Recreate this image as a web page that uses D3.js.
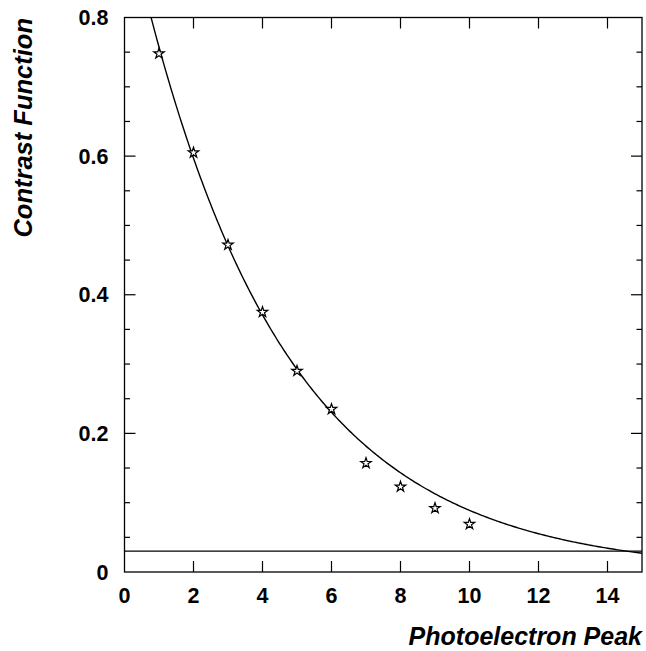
<!DOCTYPE html>
<html>
<head>
<meta charset="utf-8">
<script src="https://cdn.jsdelivr.net/npm/d3@7"></script>
<style>
  body { margin: 0; background: #fff; }
  text { font-family: "Liberation Sans", Arial, sans-serif; font-weight: bold; }
</style>
</head>
<body>
<div id="plot"></div>
<script>
// measured points (photoelectron peak number vs contrast)
const peaks = [1, 2, 3, 4, 5, 6, 7, 8, 9, 10];
const contrast = [0.748, 0.605, 0.472, 0.375, 0.290, 0.235, 0.157, 0.123, 0.092, 0.069];

// fitted exponential a*exp(-b*x) and flat reference level
const fitA = 0.961;
const fitB = 0.238;
const baseline = 0.03;

const xTicks = [0, 2, 4, 6, 8, 10, 12, 14];
const yTicks = [0, 0.2, 0.4, 0.6, 0.8];

const svgWidth = 646;
const svgHeight = 651;
const margin = { top: 17.5, right: 4, bottom: 79, left: 124.5 };
const width = svgWidth - margin.left - margin.right;
const height = svgHeight - margin.top - margin.bottom;

const svg = d3
  .select("div#plot")
  .append("svg")
  .attr("width", svgWidth)
  .attr("height", svgHeight);

const g = svg
  .append("g")
  .attr("transform", "translate(" + margin.left + "," + margin.top + ")");

const x = d3.scaleLinear().domain([0, 15]).range([0, width]);
const y = d3.scaleLinear().domain([0, 0.8]).range([height, 0]);

// clip for the curve
g.append("clipPath")
  .attr("id", "clip")
  .append("rect")
  .attr("width", width)
  .attr("height", height);

// frame
g.append("rect")
  .attr("width", width)
  .attr("height", height)
  .attr("fill", "none")
  .attr("stroke", "#000")
  .attr("stroke-width", 1.3);

// ticks: major x every 2, y major 0.2, minor 0.05
const yMinor = d3.range(0.05, 0.8, 0.05).filter((v) => Math.abs(v * 5 - Math.round(v * 5)) > 1e-6);

function tickLines(sel, data, x1, x2, y1, y2) {
  sel.selectAll(null)
    .data(data)
    .enter()
    .append("line")
    .attr("x1", x1).attr("x2", x2)
    .attr("y1", y1).attr("y2", y2)
    .attr("stroke", "#000")
    .attr("stroke-width", 1.2);
}
const ticksG = g.append("g");
const xt = xTicks.filter((d) => d > 0);
tickLines(ticksG, xt, (d) => x(d), (d) => x(d), height, height - 11);
tickLines(ticksG, xt, (d) => x(d), (d) => x(d), 0, 11);
const yt = yTicks.filter((d) => d > 0 && d < 0.8);
tickLines(ticksG, yt, 0, 11, (d) => y(d), (d) => y(d));
tickLines(ticksG, yt, width, width - 11, (d) => y(d), (d) => y(d));
tickLines(ticksG, yMinor, 0, 5.5, (d) => y(d), (d) => y(d));
tickLines(ticksG, yMinor, width, width - 5.5, (d) => y(d), (d) => y(d));

// tick labels
g.selectAll(".xlab")
  .data(xTicks)
  .enter()
  .append("text")
  .attr("class", "xlab")
  .attr("x", (d) => x(d))
  .attr("y", height + 30.5)
  .attr("text-anchor", "middle")
  .style("font-size", "21.5px")
  .text((d) => d);

g.selectAll(".ylab")
  .data(yTicks)
  .enter()
  .append("text")
  .attr("class", "ylab")
  .attr("x", -16)
  .attr("y", (d) => y(d) + 7.5)
  .attr("text-anchor", "end")
  .style("font-size", "21.5px")
  .text((d) => (d === 0 ? "0" : d.toFixed(1)));

// baseline
g.append("line")
  .attr("x1", 0).attr("x2", width)
  .attr("y1", y(baseline)).attr("y2", y(baseline))
  .attr("stroke", "#000")
  .attr("stroke-width", 1.3);

// fitted curve
const curveX = d3.range(0.5, 15.001, 0.05);
const line = d3.line()
  .x((d) => x(d))
  .y((d) => y(fitA * Math.exp(-fitB * d)));
g.append("path")
  .datum(curveX)
  .attr("clip-path", "url(#clip)")
  .attr("d", line)
  .attr("fill", "none")
  .attr("stroke", "#000")
  .attr("stroke-width", 1.4);

// star markers
const star = d3.symbol().type(d3.symbolStar).size(34);
g.selectAll(".pt")
  .data(peaks)
  .enter()
  .append("path")
  .attr("class", "pt")
  .attr("transform", (d, i) => "translate(" + x(d) + "," + y(contrast[i]) + ")")
  .attr("d", star)
  .attr("fill", "#fff")
  .attr("stroke", "#000")
  .attr("stroke-width", 1.2);

// axis titles
svg.append("text")
  .attr("x", 642)
  .attr("y", 645)
  .attr("text-anchor", "end")
  .style("font-size", "25px")
  .style("font-style", "italic")
  .text("Photoelectron Peak");

svg.append("text")
  .attr("transform", "translate(32,18) rotate(-90)")
  .attr("text-anchor", "end")
  .style("font-size", "25.5px")
  .style("font-style", "italic")
  .text("Contrast Function");
</script>
</body>
</html>
